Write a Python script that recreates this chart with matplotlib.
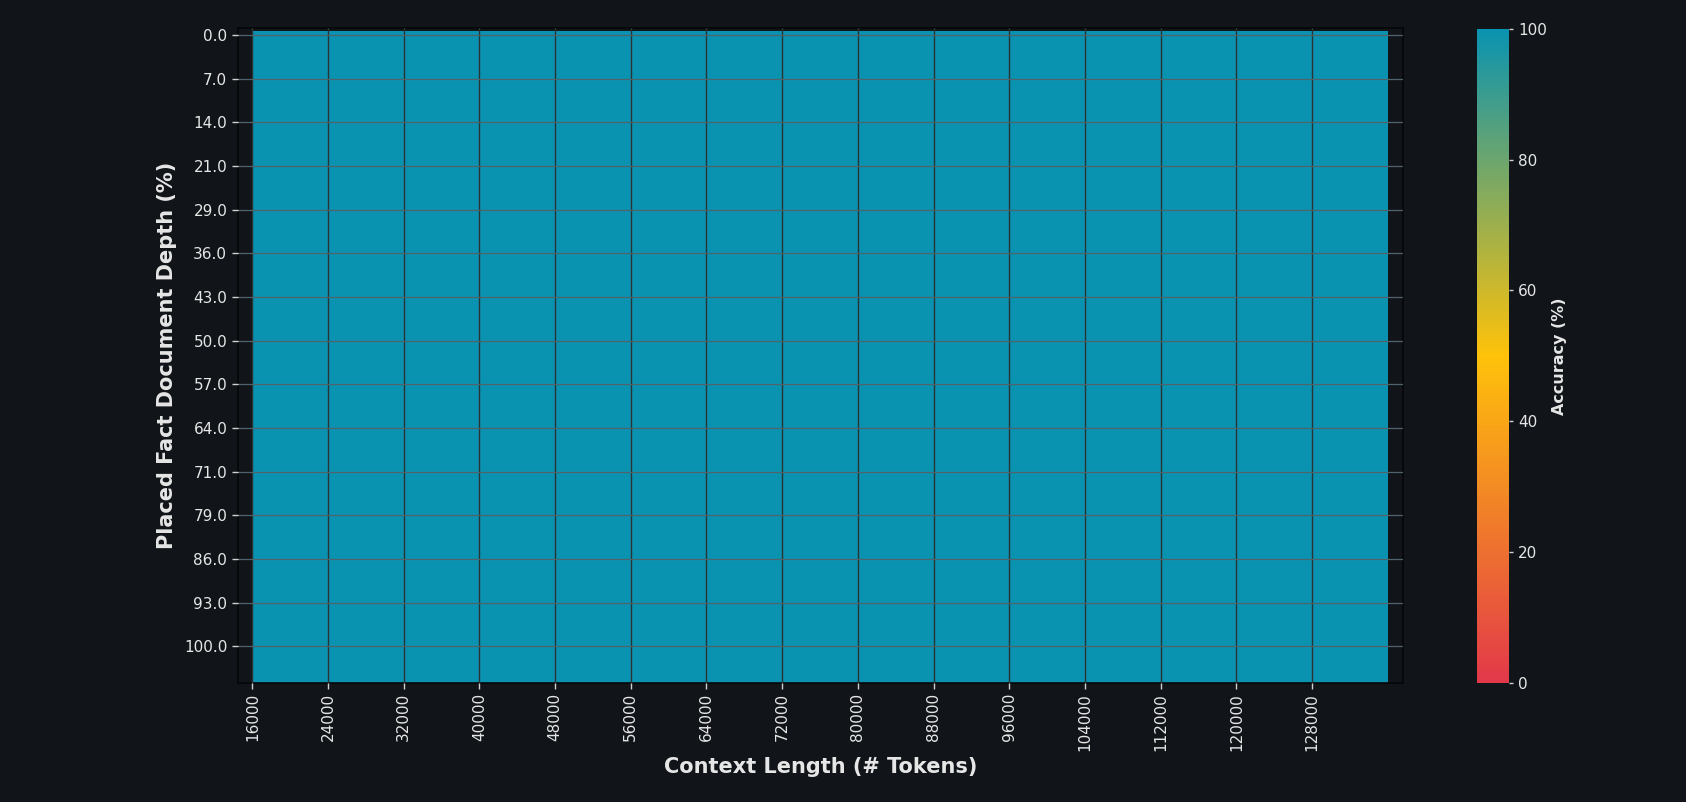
import numpy as np
import matplotlib
matplotlib.use("Agg")
import matplotlib.pyplot as plt
from matplotlib.colors import LinearSegmentedColormap

# ---- data ----
context_lengths = [16000, 24000, 32000, 40000, 48000, 56000, 64000, 72000,
                   80000, 88000, 96000, 104000, 112000, 120000, 128000]
depth_labels = [0.0, 7.0, 14.0, 21.0, 29.0, 36.0, 43.0, 50.0, 57.0, 64.0,
                71.0, 79.0, 86.0, 93.0, 100.0]
# accuracy (%) per depth row x context column -- all cells read as 100
accuracy = [[100.0] * len(context_lengths) for _ in depth_labels]
cbar_ticks = [0, 20, 40, 60, 80, 100]

BG = "#111519"
TXT = "#e6e6e6"

cmap = LinearSegmentedColormap.from_list("acc", ["#e2394a", "#ffc20a", "#0a93b0"])

fig = plt.figure(figsize=(16.86, 8.02), dpi=100, facecolor=BG)
ax = fig.add_axes([0.1410, 0.1488, 0.6910, 0.8159], facecolor=BG)
cax = fig.add_axes([0.8759, 0.1488, 0.0190, 0.8150])

step = context_lengths[1] - context_lengths[0]
x_edges = np.array(context_lengths + [context_lengths[-1] + step])
y_edges = np.linspace(-0.09, 14.83, len(depth_labels) + 1)
mesh = ax.pcolormesh(x_edges, y_edges, np.array(accuracy), cmap=cmap,
                     vmin=0, vmax=100, shading="flat", zorder=1)

ax.set_xlim(14457, 137585)
ax.set_ylim(14.83, -0.153)

ax.set_xticks(context_lengths)
ax.set_xticklabels([str(c) for c in context_lengths], rotation=90)
ax.set_yticks(range(len(depth_labels)))
ax.set_yticklabels([f"{d:.1f}" for d in depth_labels])

ax.tick_params(axis="both", colors="#d0d0d0", labelcolor=TXT, labelsize=11,
               length=4, width=1)
ax.set_axisbelow(False)
ax.xaxis.grid(True, color="#2b3236", linewidth=1.0)
ax.yaxis.grid(True, color="#50636b", linewidth=0.9)

for s in ax.spines.values():
    s.set_color("#050607")
    s.set_linewidth(1.2)

ax.set_xlabel("Context Length (# Tokens)", fontsize=15, fontweight="bold",
              color=TXT, labelpad=4.6)
ax.set_ylabel("Placed Fact Document Depth (%)", fontsize=15, fontweight="bold",
              color=TXT, labelpad=5.3)

cb = fig.colorbar(mesh, cax=cax, ticks=cbar_ticks)
cb.outline.set_visible(False)
cax.tick_params(colors="#d0d0d0", labelcolor=TXT, labelsize=11, length=3, width=1)
cb.set_label("Accuracy (%)", fontsize=11.5, fontweight="bold", color=TXT,
             labelpad=4)

fig.savefig("out.png", dpi=100, facecolor=BG)
